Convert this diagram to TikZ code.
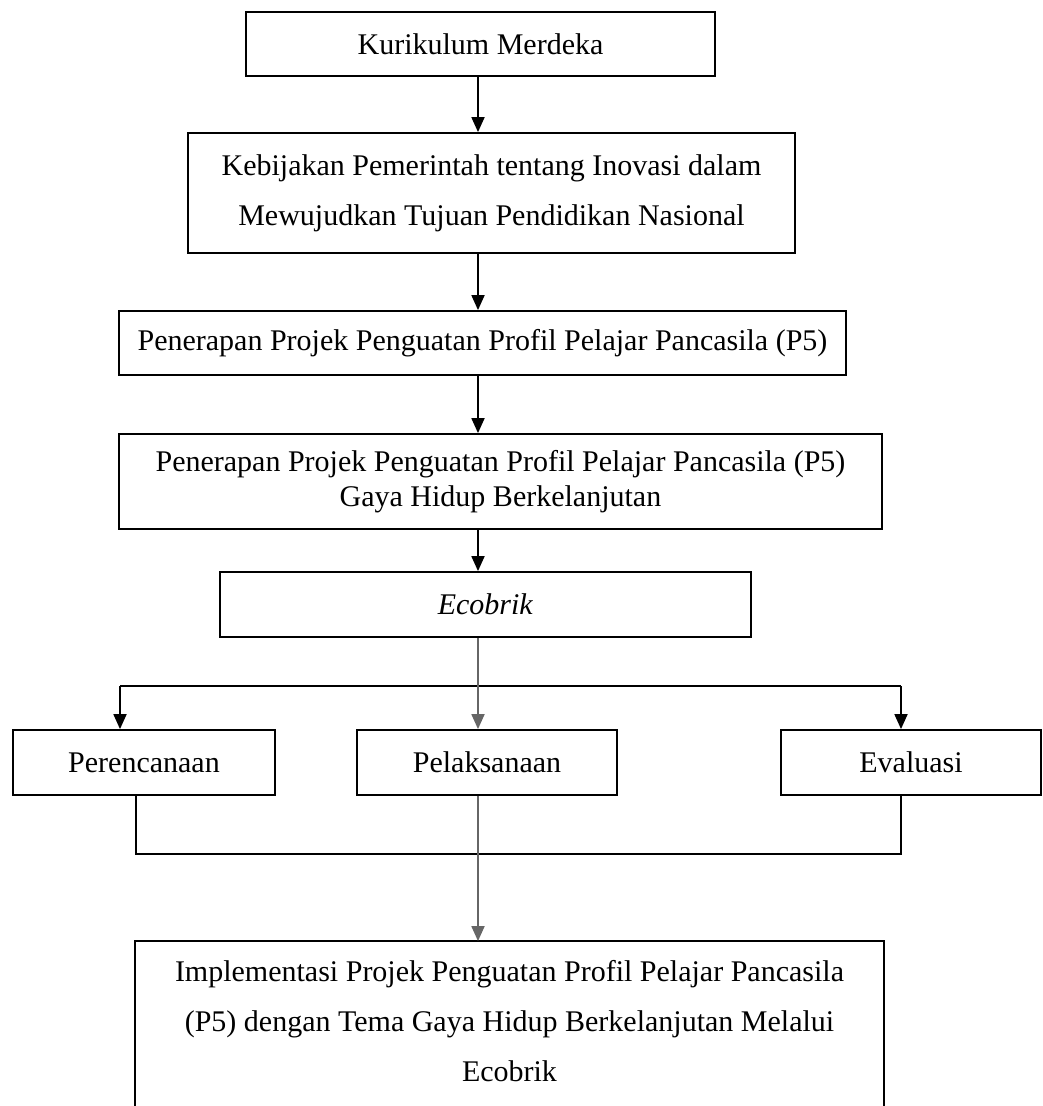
\documentclass[tikz,border=0pt]{standalone}
\usepackage{fontspec}
\setmainfont{Liberation Serif}
\usetikzlibrary{arrows.meta}
\tikzset{>={Triangle[length=15pt,width=13pt]}}

\begin{document}
\begin{tikzpicture}[x=1pt,y=-1pt,
    kotak/.style={draw,line width=1.8pt,align=center,inner sep=0pt,
      font=\fontsize{30}{35}\selectfont},
    garis/.style={line width=1.8pt},
    abu/.style={draw=black!60}]
      \useasboundingbox (0,0) rectangle (1042,1106);

      \node[kotak,minimum width=469,minimum height=64](kurikulum) at (480.5,44) {Kurikulum Merdeka};
      \node[kotak,minimum width=607,minimum height=120](kebijakan) at (491.5,193)
        {Kebijakan Pemerintah tentang Inovasi dalam\\[15pt] Mewujudkan Tujuan Pendidikan Nasional};
      \node[kotak,minimum width=727,minimum height=64](penerapan) at (482.5,343)
        {Penerapan Projek Penguatan Profil Pelajar Pancasila (P5)};
      \node[kotak,minimum width=763,minimum height=95](gaya) at (500.5,481.5)
        {Penerapan Projek Penguatan Profil Pelajar Pancasila (P5)\\ Gaya Hidup Berkelanjutan};
      \node[kotak,minimum width=531,minimum height=65](ecobrik) at (485.5,604.5) {\textit{Ecobrik}};

      \node[kotak,minimum width=262,minimum height=65](perencanaan) at (144,762.5) {Perencanaan};
      \node[kotak,minimum width=260,minimum height=65](pelaksanaan) at (487,762.5) {Pelaksanaan};
      \node[kotak,minimum width=260,minimum height=65](evaluasi) at (911,762.5) {Evaluasi};

      \node[kotak,draw=none,minimum width=747,minimum height=158](implementasi) at (509.5,1021)
        {Implementasi Projek Penguatan Profil Pelajar Pancasila\\[15pt]
         (P5) dengan Tema Gaya Hidup Berkelanjutan Melalui\\[15pt] Ecobrik};
      % the last box runs off the bottom edge
      \draw[garis] ([yshift=-40pt]implementasi.south west) -- (implementasi.north west)
        -- (implementasi.north east) -- ([yshift=-40pt]implementasi.south east);

      \coordinate (spine) at (478,0);
      \coordinate (cabangKiri) at (120,686);
      \coordinate (cabangKanan) at (901,686);
      \coordinate (gabungKiri) at (136,854);
      \coordinate (gabungKanan) at (901,854);

      \draw[garis,->] (kurikulum.south -| spine) -- (kebijakan.north -| spine);
      \draw[garis,->] (kebijakan.south -| spine) -- (penerapan.north -| spine);
      \draw[garis,->] (penerapan.south -| spine) -- (gaya.north -| spine);
      \draw[garis,->] (gaya.south -| spine) -- (ecobrik.north -| spine);

      \draw[garis] (cabangKiri) -- (cabangKanan);
      \draw[garis,->] (cabangKiri) -- (cabangKiri |- perencanaan.north);
      \draw[garis,->] (cabangKanan) -- (cabangKanan |- evaluasi.north);
      \draw[garis,abu,->] (ecobrik.south -| spine) -- (pelaksanaan.north -| spine);

      \draw[garis] (gabungKiri |- perencanaan.south) -- (gabungKiri) -- (gabungKanan)
        -- (gabungKanan |- evaluasi.south);
      \draw[garis,abu,->] (pelaksanaan.south -| spine) -- (implementasi.north -| spine);
    \end{tikzpicture}
\end{document}
